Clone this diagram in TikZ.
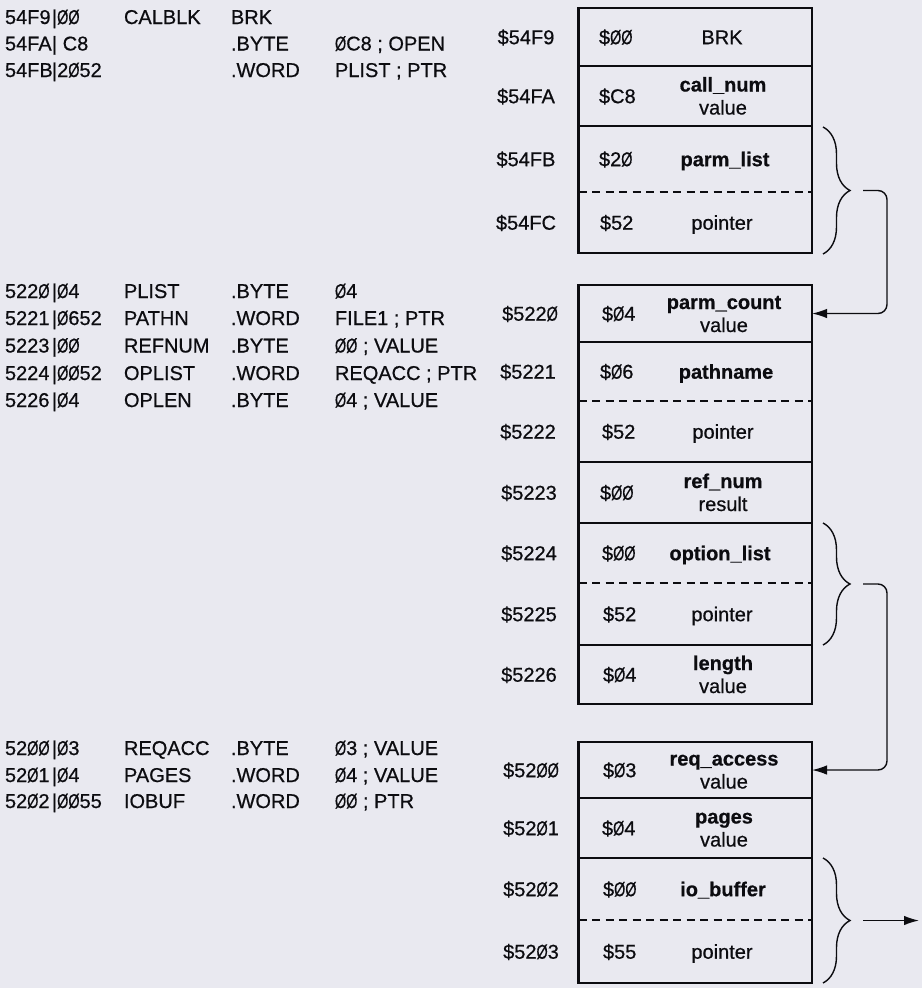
\documentclass[tikz,border=0pt]{standalone}
\usepackage{fontspec}
\setmainfont{Liberation Sans}[FakeBold=0.6]
\usepackage{graphicx}
\usetikzlibrary{arrows.meta,decorations.pathreplacing,calc}
\definecolor{bgcol}{RGB}{233,233,240}
\definecolor{ink}{RGB}{12,12,16}
\newcommand{\zz}{\scalebox{0.72}[1]{Ø}}
\newcommand{\codeln}[5]{\makebox[119pt][l]{\makebox[47pt][l]{#1}|#2}\makebox[107pt][l]{#3}\makebox[104pt][l]{#4}#5}
\begin{document}
\begin{tikzpicture}[x=1pt,y=-1pt,
  every node/.style={text=ink, font=\fontsize{20}{23}\selectfont, inner sep=0pt, outer sep=0pt},
  code/.style={anchor=base west},
  addr/.style={anchor=base},
  hexv/.style={anchor=base west},
  fld/.style={anchor=base},
  outerbox/.style={draw=ink, line width=2.7pt, minimum width=233.5pt},
  rowcell/.style={minimum width=233.5pt},
  sep/.style={draw=ink, line width=1.5pt},
  dsep/.style={draw=ink, line width=1.5pt, dash pattern=on 8pt off 5.5pt},
  brc/.style={draw=ink, line width=1.4pt, decorate, decoration={brace, amplitude=27pt}},
  conn/.style={draw=ink, line width=1.4pt, rounded corners=9pt, -{Latex[length=15pt,width=9.5pt]}}
]
\useasboundingbox (0,0) rectangle (922,988);
\fill[bgcol] (0,0) rectangle (922,988);

% ---------- assembler listing ----------
\node[code] (L1) at (5,24)   {\codeln{54F9}{\zz\zz}{CALBLK}{BRK}{}};
\node[code] (L2) at (5,50.5) {\codeln{54FA}{\ C8}{}{.BYTE}{\zz C8 ; OPEN}};
\node[code] (L3) at (5,77)   {\codeln{54FB}{2\zz52}{}{.WORD}{PLIST ; PTR}};

\node[code] (L4) at (5,298)   {\codeln{522\zz}{\zz4}{PLIST}{.BYTE}{\zz4}};
\node[code] (L5) at (5,325)   {\codeln{5221}{\zz652}{PATHN}{.WORD}{FILE1 ; PTR}};
\node[code] (L6) at (5,352.5) {\codeln{5223}{\zz\zz}{REFNUM}{.BYTE}{\zz\zz{} ; VALUE}};
\node[code] (L7) at (5,380)   {\codeln{5224}{\zz\zz52}{OPLIST}{.WORD}{REQACC ; PTR}};
\node[code] (L8) at (5,407)   {\codeln{5226}{\zz4}{OPLEN}{.BYTE}{\zz4 ; VALUE}};

\node[code] (L9)  at (5,755) {\codeln{52\zz\zz}{\zz3}{REQACC}{.BYTE}{\zz3 ; VALUE}};
\node[code] (L10) at (5,782) {\codeln{52\zz1}{\zz4}{PAGES}{.WORD}{\zz4 ; VALUE}};
\node[code] (L11) at (5,808) {\codeln{52\zz2}{\zz\zz55}{IOBUF}{.WORD}{\zz\zz{} ; PTR}};

% ---------- boxes ----------
\node[outerbox, minimum height=245pt] (box1) at (695.25,130.5) {};
\node[outerbox, minimum height=419pt] (box2) at (695.25,494.5) {};
\node[outerbox, minimum height=241pt] (box3) at (695.25,862.5) {};

% row cells
\node[rowcell, minimum height=58pt] (rBRK) at (695.25,37) {};
\node[rowcell, minimum height=60pt] (rCN)  at (695.25,96) {};
\node[rowcell, minimum height=66pt] (rPL)  at (695.25,159) {};
\node[rowcell, minimum height=61pt] (rP1)  at (695.25,222.5) {};
\node[rowcell, minimum height=57pt] (rPC)  at (695.25,313.5) {};
\node[rowcell, minimum height=59pt] (rPN)  at (695.25,371.5) {};
\node[rowcell, minimum height=61pt] (rP2)  at (695.25,431.5) {};
\node[rowcell, minimum height=61pt] (rRN)  at (695.25,492.5) {};
\node[rowcell, minimum height=60pt] (rOL)  at (695.25,553) {};
\node[rowcell, minimum height=62pt] (rP3)  at (695.25,614) {};
\node[rowcell, minimum height=59pt] (rLN)  at (695.25,674.5) {};
\node[rowcell, minimum height=56pt] (rRA)  at (695.25,770) {};
\node[rowcell, minimum height=60pt] (rPG)  at (695.25,828) {};
\node[rowcell, minimum height=62pt] (rIO)  at (695.25,889) {};
\node[rowcell, minimum height=63pt] (rP4)  at (695.25,951.5) {};

% separators
\draw[sep]  (box1.west |- 0,66)  -- (box1.east |- 0,66);
\draw[sep]  (box1.west |- 0,126) -- (box1.east |- 0,126);
\draw[dsep] (box1.west |- 0,192) -- (box1.east |- 0,192);

\draw[sep]  (box2.west |- 0,342) -- (box2.east |- 0,342);
\draw[dsep] (box2.west |- 0,401) -- (box2.east |- 0,401);
\draw[sep]  (box2.west |- 0,462) -- (box2.east |- 0,462);
\draw[sep]  (box2.west |- 0,523) -- (box2.east |- 0,523);
\draw[dsep] (box2.west |- 0,583) -- (box2.east |- 0,583);
\draw[sep]  (box2.west |- 0,645) -- (box2.east |- 0,645);

\draw[sep]  (box3.west |- 0,798) -- (box3.east |- 0,798);
\draw[sep]  (box3.west |- 0,858) -- (box3.east |- 0,858);
\draw[dsep] (box3.west |- 0,920) -- (box3.east |- 0,920);

% ---------- addresses ----------
\node[addr] (a1)  at (526,44.2)  {\$54F9};
\node[addr] (a2)  at (526,103.2) {\$54FA};
\node[addr] (a3)  at (526,166.2) {\$54FB};
\node[addr] (a4)  at (526,229.7) {\$54FC};
\node[addr] (a5)  at (530,320.7) {\$522\zz};
\node[addr] (a6)  at (528,378.7) {\$5221};
\node[addr] (a7)  at (528,438.7) {\$5222};
\node[addr] (a8)  at (529,499.7) {\$5223};
\node[addr] (a9)  at (529,560.2) {\$5224};
\node[addr] (a10) at (529,621.2) {\$5225};
\node[addr] (a11) at (529,681.7) {\$5226};
\node[addr] (a12) at (531,777.2) {\$52\zz\zz};
\node[addr] (a13) at (531,835.2) {\$52\zz1};
\node[addr] (a14) at (531,896.2) {\$52\zz2};
\node[addr] (a15) at (531,958.7) {\$52\zz3};

% ---------- byte values ----------
\node[hexv] (h1)  at (599,44.2)  {\$\zz\zz};
\node[hexv] (h2)  at (599,103.2) {\$C8};
\node[hexv] (h3)  at (599,166.2) {\$2\zz};
\node[hexv] (h4)  at (600,229.7) {\$52};
\node[hexv] (h5)  at (602,320.7) {\$\zz4};
\node[hexv] (h6)  at (600,378.7) {\$\zz6};
\node[hexv] (h7)  at (602,438.7) {\$52};
\node[hexv] (h8)  at (600,499.7) {\$\zz\zz};
\node[hexv] (h9)  at (602,560.2) {\$\zz\zz};
\node[hexv] (h10) at (603,621.2) {\$52};
\node[hexv] (h11) at (603,681.7) {\$\zz4};
\node[hexv] (h12) at (603,777.2) {\$\zz3};
\node[hexv] (h13) at (602,835.2) {\$\zz4};
\node[hexv] (h14) at (603,896.2) {\$\zz\zz};
\node[hexv] (h15) at (603,958.7) {\$55};

% ---------- field names ----------
\node[fld] (f1)  at (722,44.2)  {BRK};
\node[fld] (f2)  at (723,91.5)  {\textbf{call\_num}};
\node[fld] (f2b) at (723,114.5) {value};
\node[fld] (f3)  at (725,166.2) {\textbf{parm\_list}};
\node[fld] (f4)  at (722,229.7) {pointer};
\node[fld] (f5)  at (724,309)   {\textbf{parm\_count}};
\node[fld] (f5b) at (724,332)   {value};
\node[fld] (f6)  at (726,378.7) {\textbf{pathname}};
\node[fld] (f7)  at (723,438.7) {pointer};
\node[fld] (f8)  at (723,488)   {\textbf{ref\_num}};
\node[fld] (f8b) at (723,511)   {result};
\node[fld] (f9)  at (720,560.2) {\textbf{option\_list}};
\node[fld] (f10) at (722,621.2) {pointer};
\node[fld] (f11) at (723,670)   {\textbf{length}};
\node[fld] (f11b) at (723,693)  {value};
\node[fld] (f12) at (724,765.5) {\textbf{req\_access}};
\node[fld] (f12b) at (724,788.5) {value};
\node[fld] (f13) at (724,823.5) {\textbf{pages}};
\node[fld] (f13b) at (724,846.5) {value};
\node[fld] (f14) at (723,896.2) {\textbf{io\_buffer}};
\node[fld] (f15) at (722,958.7) {pointer};

% ---------- braces ----------
\draw[brc] (823,127) -- (823,254);
\draw[brc] (823,523) -- (823,645);
\draw[brc] (823,858) -- (823,983);

% ---------- connectors ----------
\coordinate (c1) at (863,190.5);
\coordinate (c2) at (863,584);
\coordinate (c3) at (863,920.5);
\coordinate (c3end) at (919,920.5);
\draw[conn] (c1) -- ++(24,0) |- (rPC.east);
\draw[conn] (c2) -- ++(24,0) |- (rRA.east);
\draw[conn] (c3) -- (c3end);
\end{tikzpicture}
\end{document}
